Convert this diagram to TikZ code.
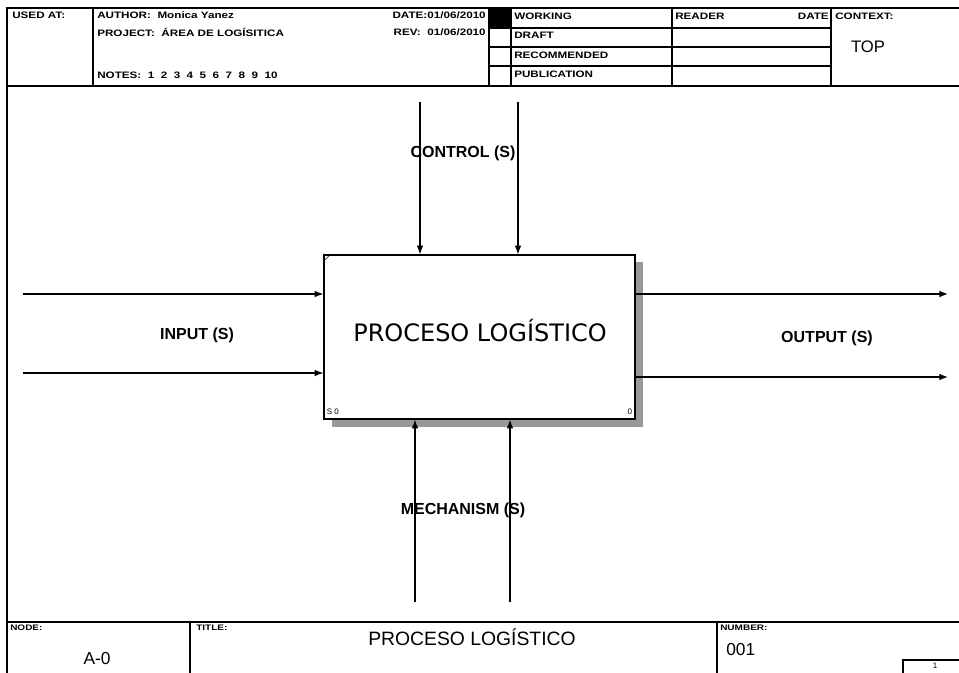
\documentclass[tikz,border=0pt]{standalone}
\usepackage{fontspec}
\setmainfont{Liberation Sans}
\newfontfamily\hdrfont[FakeStretch=1.25]{Liberation Sans}
\newfontfamily\boxfont{DejaVu Sans}
\usetikzlibrary{arrows.meta}
\tikzset{
  frame/.style={line width=1.1pt},
  hdr/.style={font=\hdrfont\fontsize{7}{8}\selectfont\bfseries, inner sep=0pt, anchor=west},
  tag/.style={font=\hdrfont\fontsize{6}{7}\selectfont\bfseries, inner sep=0pt, anchor=west},
  flow/.style={line width=0.9pt, -{Latex[length=6.5pt,width=5pt]}},
  albl/.style={font=\fontsize{12}{14}\selectfont\bfseries, inner sep=0pt},
  procbox/.style={draw, line width=1pt, fill=white, minimum width=233.25pt, minimum height=123pt, inner sep=0pt},
  shade/.style={fill=black!40}
}
\begin{document}
\begin{tikzpicture}[x=0.75pt, y=-0.75pt]
\useasboundingbox[fill=white] (0,0) rectangle (959,673);
% header frame
\draw[frame] (7,673) -- (7,8) -- (959,8);
\draw[frame] (7,86) -- (959,86);
\draw[frame] (7,622) -- (959,622);
\foreach \xx in {93,489,511,672,831}
  \draw[frame] (\xx,8) -- (\xx,86);
\foreach \yy in {28,47,66}
  \draw[frame] (489,\yy) -- (831,\yy);
\fill (489,8) rectangle (511,28);
\node[hdr] (usedat) at (12,15) {USED AT:};
\node[hdr] (author) at (97,15) {AUTHOR:\ \ Monica Yanez};
\node[hdr] (project) at (97,32) {PROJECT:\ \ ÁREA DE LOGÍSITICA};
\node[hdr] (notes) at (97,75) {NOTES:\ \ 1\ \ 2\ \ 3\ \ 4\ \ 5\ \ 6\ \ 7\ \ 8\ \ 9\ \ 10};
\node[hdr, anchor=east] (date) at (486,15) {DATE:01/06/2010};
\node[hdr, anchor=east] (rev) at (486,32) {REV:\ \ 01/06/2010};
\node[hdr] (working) at (514,16) {WORKING};
\node[hdr] (draft) at (514,35) {DRAFT};
\node[hdr] (recom) at (514,55) {RECOMMENDED};
\node[hdr] (publ) at (514,74) {PUBLICATION};
\node[hdr] (reader) at (675,16) {READER};
\node[hdr, anchor=east] (rdate) at (829,16) {DATE};
\node[hdr] (context) at (835,16) {CONTEXT:};
\node[font=\fontsize{12.5}{14}\selectfont, inner sep=0pt] (top) at (868,47) {TOP};
% activity box
\fill[shade] (332,262) rectangle (643,427);
\node[procbox] (proc) at (479.5,337) {};
\node[font=\boxfont\fontsize{18}{20}\selectfont, inner sep=0pt] (proctitle) at (480,331) {PROCESO LOGÍSTICO};
\draw (proc.north west) ++(0,7) -- ++(7,-7);
\node[tag, font=\fontsize{6}{7}\selectfont] (snum) at ([xshift=2.5pt,yshift=6pt]proc.south west) {S 0};
\node[tag, anchor=east, font=\fontsize{6}{7}\selectfont] (cost) at ([xshift=-2.5pt,yshift=6pt]proc.south east) {0};
% controls
\coordinate (ctl1) at (420,102);
\coordinate (ctl2) at (518,102);
\draw[flow] (ctl1) -- (ctl1 |- proc.north);
\draw[flow] (ctl2) -- (ctl2 |- proc.north);
\node[albl] (ctllbl) at (463,153) {CONTROL (S)};
% inputs
\coordinate (in1) at (23,294);
\coordinate (in2) at (23,373);
\draw[flow] (in1) -- (in1 -| proc.west);
\draw[flow] (in2) -- (in2 -| proc.west);
\node[albl] (inlbl) at (197,335) {INPUT (S)};
% outputs
\coordinate (out1) at (948,294);
\coordinate (out2) at (948,377);
\draw[flow] (out1 -| proc.east) -- (out1);
\draw[flow] (out2 -| proc.east) -- (out2);
\node[albl] (outlbl) at (827,338) {OUTPUT (S)};
% mechanisms
\coordinate (mec1) at (415,602);
\coordinate (mec2) at (510,602);
\draw[flow] (mec1) -- (mec1 |- proc.south);
\draw[flow] (mec2) -- (mec2 |- proc.south);
\node[albl] (meclbl) at (463,510) {MECHANISM (S)};
% footer
\draw[frame] (190,622) -- (190,673);
\draw[frame] (717,622) -- (717,673);
\node[tag] (nodetag) at (10,628) {NODE:};
\node[tag] (titletag) at (196,628) {TITLE:};
\node[tag] (numtag) at (720,628) {NUMBER:};
\node[font=\fontsize{13}{15}\selectfont, inner sep=0pt] (nodeid) at (97,659) {A-0};
\node[font=\fontsize{14.5}{16}\selectfont, inner sep=0pt] (ftitle) at (472,637) {PROCESO LOGÍSTICO};
\node[font=\fontsize{13}{15}\selectfont, inner sep=0pt, anchor=west] (number) at (726,650) {001};
\draw[frame] (903,673) -- (903,660) -- (959,660);
\node[font=\fontsize{6}{7}\selectfont, inner sep=0pt] (page) at (935,666) {1};
\end{tikzpicture}
\end{document}
